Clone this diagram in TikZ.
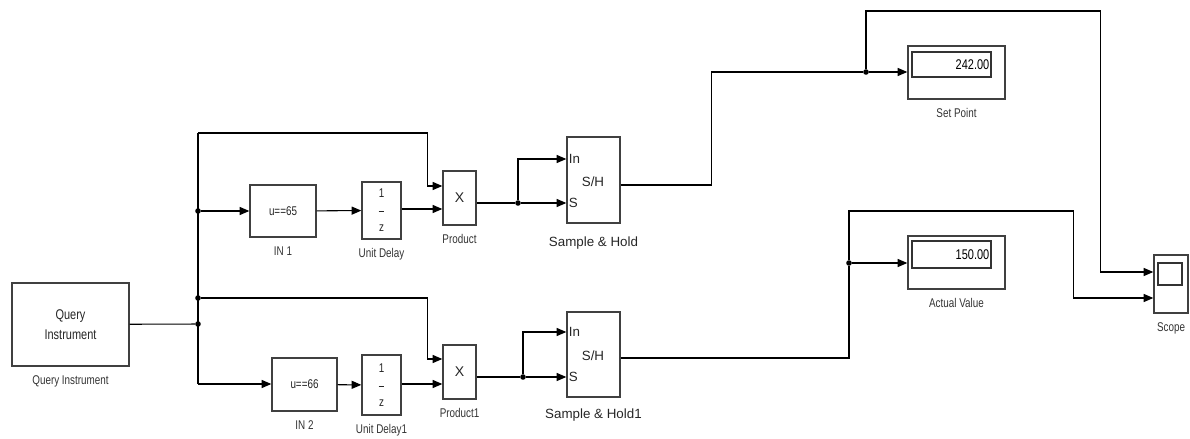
\documentclass[tikz,border=0pt]{standalone}
\usepackage{fontspec}
\setmainfont{Liberation Sans}
\newfontfamily\narrowfont{Liberation Sans}[FakeStretch=0.78]
\usetikzlibrary{arrows.meta, positioning, calc}
\newlength\pxu
\setlength\pxu{0.025cm}

\begin{document}
\begin{tikzpicture}[
    x=0.025cm, y=-0.025cm,
    font=\narrowfont\fontsize{9}{10}\selectfont,
    block/.style={
        rectangle,
        draw=black!75,
        line width=1pt,
        fill=white,
        inner sep=0pt,
        text=black!85
    },
    display/.style={block, minimum width=97\pxu, minimum height=53\pxu},
    screen/.style={rectangle, draw=black!80, line width=0.9pt, inner sep=0pt},
    shtext/.style={font=\fontsize{9.5}{10}\selectfont, text=black!85},
    wire/.style={line width=0.75pt},
    arrow/.style={wire, -{Triangle[length=2.4mm, width=2mm]}},
    dot/.style={circle, fill=black, inner sep=0pt, minimum size=1.4mm},
    every label/.style={font=\narrowfont\fontsize{9}{10}\selectfont, text=black!80},
    label distance=1mm
]
    \useasboundingbox (0,0) rectangle (1190,439);

    \node (query) [block, minimum width=117\pxu, minimum height=83\pxu, align=center,
        font=\narrowfont\fontsize{10}{14}\selectfont, label=below:Query Instrument] at (70.5,324.5) {Query\\Instrument};

    \node (in1) [block, minimum width=66\pxu, minimum height=52\pxu, label=below:IN 1] at (283,211) {u==65};
    \node (delay1) [block, minimum width=39\pxu, minimum height=57\pxu, align=center,
        font=\narrowfont\fontsize{9}{12}\selectfont, label=below:Unit Delay] at (381.5,210.5) {1\\\rule[2pt]{4pt}{0.7pt}\\z};
    \node (prod1) [block, minimum width=33\pxu, minimum height=54\pxu, font=\fontsize{10}{11}\selectfont,
        label=below:Product] at (459.5,198) {X};
    \node (sh1) [block, minimum width=53\pxu, minimum height=86\pxu,
        label={[shtext, label distance=2mm]below:Sample \& Hold}] at (593.5,180) {};
    \node (sh1txt) [shtext] at (593,182) {S/H};
    \node (sh1in) [shtext, anchor=west, inner sep=1pt] at ($(sh1.west)+(1,-21)$) {In};
    \node (sh1s) [shtext, anchor=west, inner sep=1pt] at ($(sh1.west)+(1,23)$) {S};

    \node (in2) [block, minimum width=65\pxu, minimum height=53\pxu, label=below:IN 2] at (304.5,384.5) {u==66};
    \node (delay2) [block, minimum width=39\pxu, minimum height=60\pxu, align=center,
        font=\narrowfont\fontsize{9}{12}\selectfont, label=below:Unit Delay1] at (381.5,385) {1\\\rule[2pt]{4pt}{0.7pt}\\z};
    \node (prod2) [block, minimum width=33\pxu, minimum height=54\pxu, font=\fontsize{10}{11}\selectfont,
        label=below:Product1] at (459.5,372) {X};
    \node (sh2) [block, minimum width=53\pxu, minimum height=85\pxu,
        label={[shtext, label distance=1.5mm]below:Sample \& Hold1}] at (593.5,354.5) {};
    \node (sh2txt) [shtext] at (593,356) {S/H};
    \node (sh2in) [shtext, anchor=west, inner sep=1pt] at ($(sh2.west)+(1,-22.5)$) {In};
    \node (sh2s) [shtext, anchor=west, inner sep=1pt] at ($(sh2.west)+(1,22.5)$) {S};

    \node (setbox) [display, label=below:Set Point] at (956.5,72.5) {};
    \node (setwin) [screen, minimum width=79\pxu, minimum height=25\pxu] at (951.5,64.5) {};
    \node (setval) [anchor=east, inner sep=1.5pt, font=\narrowfont\fontsize{10}{11}\selectfont] at (setwin.east) {242.00};

    \node (actbox) [display, label=below:Actual Value] at (956.5,262.5) {};
    \node (actwin) [screen, minimum width=79\pxu, minimum height=27\pxu] at (951.5,254.5) {};
    \node (actval) [anchor=east, inner sep=1.5pt, font=\narrowfont\fontsize{10}{11}\selectfont] at (actwin.east) {150.00};

    \node (scope) [block, minimum width=34\pxu, minimum height=58\pxu, label=below:Scope] at (1171,284) {};
    \node (scopewin) [screen, minimum width=24\pxu, minimum height=22\pxu] at (1170,274) {};

    \node (bus) [dot] at (198,324) {};
    \node (tap1) [dot] at (198,211) {};
    \node (tap2) [dot] at (198,298) {};
    \coordinate (bustop) at (198,133);
    \coordinate (busbot) at (198,384);

    \coordinate (p1a) at ($(prod1.west)+(0,-12)$);
    \coordinate (p1b) at ($(prod1.west)+(0,11)$);
    \coordinate (p2a) at ($(prod2.west)+(0,-13)$);
    \coordinate (p2b) at ($(prod2.west)+(0,12)$);
    \coordinate (sc1) at ($(scope.west)+(0,-12)$);
    \coordinate (sc2) at ($(scope.west)+(0,14)$);

    \node (split1) [dot] at (518,203) {};
    \node (split2) [dot] at (523,377) {};
    \node (fork1) [dot] at (866,72) {};
    \node (fork2) [dot] at (849,263) {};

    \draw [wire] (query) -- (bus);
    \draw [wire] (bustop) -- (busbot);

    \draw [arrow] (bustop) -| ($(p1a)+(-15,0)$) -- (p1a);
    \draw [arrow] (tap1) -- (in1);
    \draw [arrow] (in1) -- (delay1);
    \draw [arrow] (delay1.east |- p1b) -- (p1b);

    \draw [arrow] (tap2) -| ($(p2a)+(-15,0)$) -- (p2a);
    \draw [arrow] (busbot) -- (busbot -| in2.west);
    \draw [arrow] (in2) -- (delay2);
    \draw [arrow] (delay2.east |- p2b) -- (p2b);

    \draw [wire] (prod1.east |- split1) -- (split1);
    \draw [arrow] (split1) -- (split1 -| sh1.west);
    \draw [arrow] (split1) |- (sh1in.west -| sh1.west);

    \draw [wire] (prod2.east |- split2) -- (split2);
    \draw [arrow] (split2) -- (split2 -| sh2.west);
    \draw [arrow] (split2) |- (sh2in.west -| sh2.west);

    \draw [wire] ($(sh1.east)+(0,5)$) -- ++(91,0) |- (fork1);
    \draw [arrow] (fork1) -- (fork1 -| setbox.west);
    \draw [arrow] (fork1) -- ++(0,-61) -| ($(sc1)+(-53,0)$) -- (sc1);

    \draw [wire] ($(sh2.east)+(0,3.5)$) -| (fork2);
    \draw [arrow] (fork2) -- (fork2 -| actbox.west);
    \draw [arrow] (fork2) -- ++(0,-52) -| ($(sc2)+(-80,0)$) -- (sc2);

\end{tikzpicture}
\end{document}
